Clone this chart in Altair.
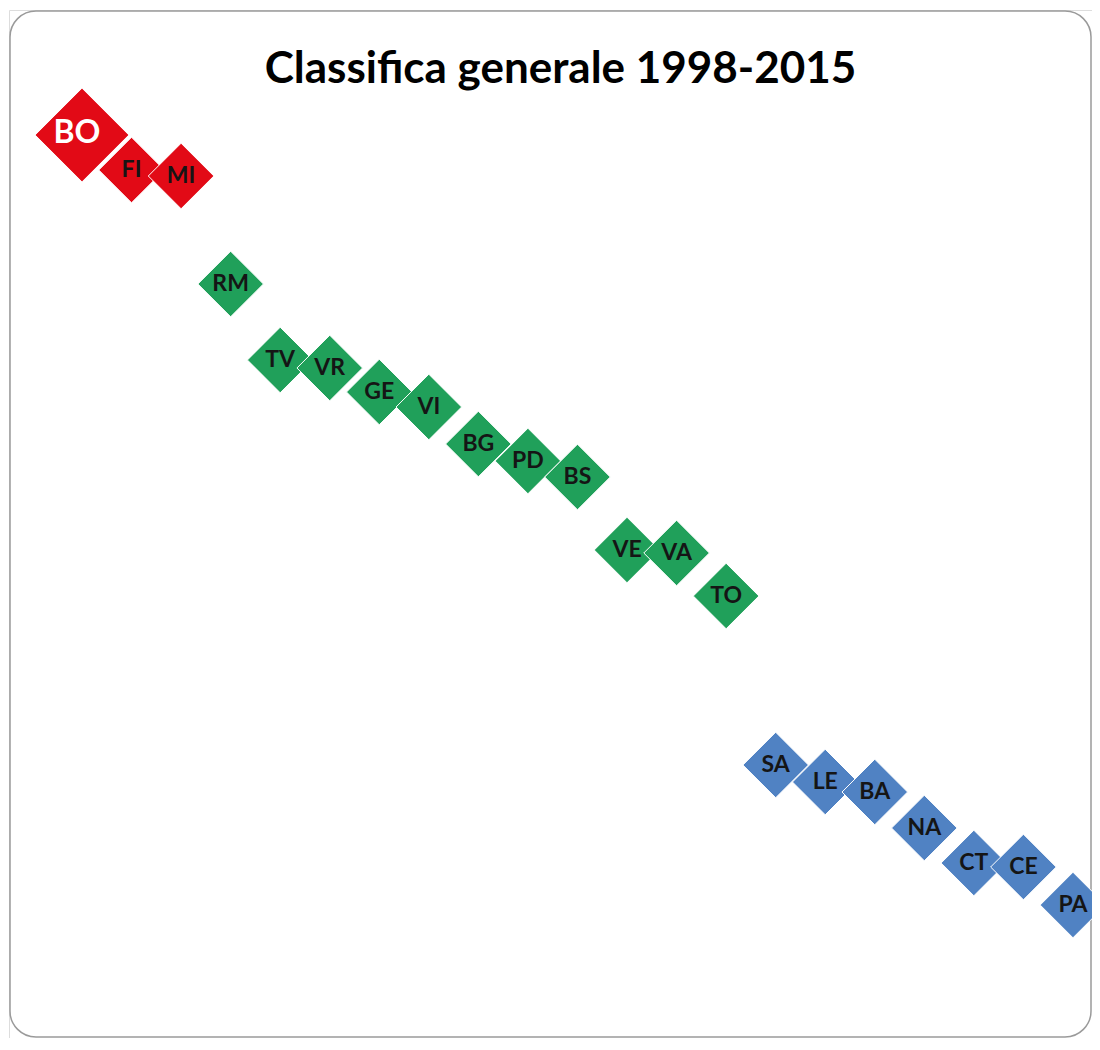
import altair as alt
import pandas as pd

codes = ["BO", "FI", "MI", "RM", "TV", "VR", "GE", "VI", "BG", "PD", "BS",
         "VE", "VA", "TO", "SA", "LE", "BA", "NA", "CT", "CE", "PA"]
ranks = list(range(1, 22))
scores = [86.5, 83.0, 82.4, 71.6, 64.0, 63.2, 60.8, 59.3, 55.6, 53.9, 52.3,
          45.0, 44.7, 40.4, 23.5, 21.8, 20.8, 17.2, 13.7, 13.3, 9.5]
groups = ["alta"] * 3 + ["media"] * 11 + ["bassa"] * 7

df = pd.DataFrame({"code": codes, "rank": ranks, "score": scores, "group": groups})

W, H = 1083, 1028

x_enc = alt.X("rank:Q", scale=alt.Scale(domain=[-0.473, 21.384], nice=False, zero=False), axis=None)
y_enc = alt.Y("score:Q", scale=alt.Scale(domain=[-3.8, 99], nice=False, zero=False), axis=None)

color_scale = alt.Scale(domain=["alta", "media", "bassa"], range=["#E20A16", "#20A05A", "#5082C3"])

big = alt.datum.code == "BO"

frame = alt.Chart(pd.DataFrame({"k": [0]})).mark_rect(
    fill="white", stroke="#9A9A9A", strokeWidth=1.5, cornerRadius=26
).encode(x=alt.value(1), x2=alt.value(W - 1), y=alt.value(1), y2=alt.value(H - 1))

diamonds = alt.Chart(df).mark_point(shape="diamond", filled=True, opacity=1, stroke="white", strokeWidth=1).encode(
    x=x_enc, y=y_enc,
    color=alt.Color("group:N", scale=color_scale, legend=None),
    size=alt.condition(big, alt.value(8800), alt.value(4300)),
)

labels = alt.Chart(df).transform_filter(~big).mark_text(
    font="Lato", fontWeight="bold", fontSize=23, color="#151515", baseline="middle", align="center"
).encode(x=x_enc, y=y_enc, text="code:N")

label_bo = alt.Chart(df).transform_filter(big).mark_text(
    font="Lato", fontWeight="bold", fontSize=32, color="white", baseline="middle", align="center", dx=-5, dy=-2
).encode(x=x_enc, y=y_enc, text="code:N")

chart = alt.layer(frame, diamonds, labels, label_bo).properties(
    width=W, height=H,
    title=alt.Title("Classifica generale 1998-2015", font="Lato", fontSize=44, fontWeight="bold",
                    color="black", anchor="middle", baseline="middle", offset=0, dy=104, dx=10),
    autosize=alt.AutoSizeParams(type="none"),
    padding={"left": 1, "top": 2, "right": 0, "bottom": 0},
).configure_view(
    stroke=None
).configure(background="white")

chart.save("out.html", embed_options={"renderer": "svg", "actions": False})
